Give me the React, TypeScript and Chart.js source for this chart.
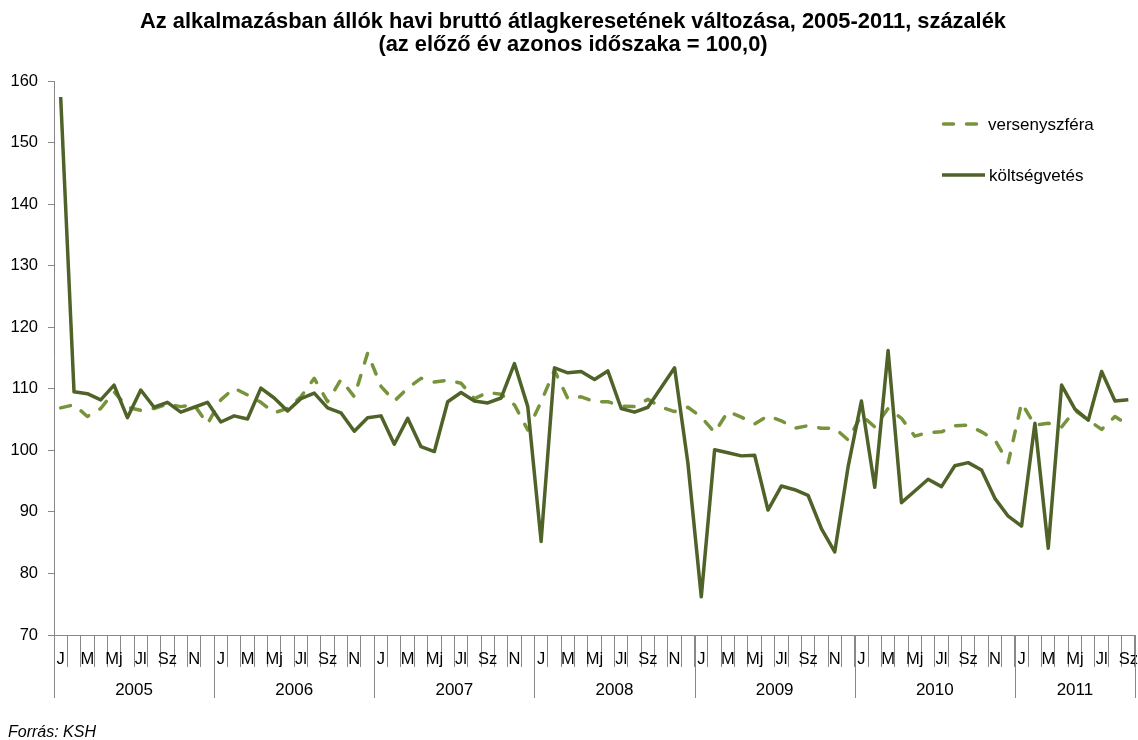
import { useEffect, useRef } from 'react';
import { Chart, registerables } from 'chart.js';

Chart.register(...registerables);

const FONT = '"Liberation Sans", Arial, Helvetica, sans-serif';

const TITLE_LINES = [
  'Az alkalmazásban állók havi bruttó átlagkeresetének változása, 2005-2011, százalék',
  '(az előző év azonos időszaka = 100,0)',
];
const SOURCE = 'Forrás: KSH';

const YEARS = ['2005', '2006', '2007', '2008', '2009', '2010', '2011'];
const MONTHS_PER_YEAR = [12, 12, 12, 12, 12, 12, 9];
const MONTH_NAMES = ['J', 'F', 'M', 'Á', 'Mj', 'Jn', 'Jl', 'Au', 'Sz', 'O', 'N', 'D'];
const MONTH_TICKS = ['J', '', 'M', '', 'Mj', '', 'Jl', '', 'Sz', '', 'N', ''];

const Y_MIN = 70;
const Y_MAX = 160;
const Y_STEP = 10;

const SERIES_NAMES = ['versenyszféra', 'költségvetés'];

const VERSENY = [
  106.9, 107.4, 105.5, 106.8, 109.5, 107.0, 106.5, 106.8, 107.5, 107.1, 107.4, 104.3,
  108.2, 110.1, 109.0, 107.8, 106.1, 106.8, 108.7, 111.7, 107.9, 111.5, 108.7, 115.8,
  110.4, 108.0, 110.1, 111.7, 111.1, 111.4, 110.9, 108.4, 109.4, 109.1, 107.4, 103.3,
  107.9, 113.0, 108.4, 108.7, 107.9, 107.9, 107.2, 107.1, 108.3, 107.0, 106.3, 107.0,
  105.4, 102.9, 106.3, 105.4, 104.3, 105.6, 104.8, 103.6, 104.0, 103.6, 103.6, 101.7,
  105.7, 103.8, 106.8, 105.2, 102.3, 102.9, 103.0, 104.0, 104.1, 103.0, 101.7, 98.0,
  107.7, 104.1, 104.4, 103.8, 106.5, 104.9, 103.4, 105.5, 104.1,
];

const KOLTSEG = [
  157.4, 109.5, 109.2, 108.2, 110.6, 105.3, 109.8, 107.0, 107.8, 106.2, 107.0, 107.8,
  104.6, 105.6, 105.1, 110.1, 108.5, 106.4, 108.4, 109.3, 106.9, 106.1, 103.1, 105.3,
  105.6, 101.0, 105.2, 100.6, 99.8, 107.9, 109.4, 108.0, 107.7, 108.5, 114.1, 107.1,
  85.2, 113.4, 112.6, 112.8, 111.5, 112.9, 106.8, 106.2, 107.0, 110.2, 113.4, 97.9,
  76.2, 100.1, 99.6, 99.1, 99.2, 90.3, 94.2, 93.6, 92.7, 87.3, 83.5, 97.3,
  108.0, 94.0, 116.2, 91.5, 93.4, 95.3, 94.1, 97.5, 98.0, 96.8, 92.2, 89.3,
  87.7, 104.4, 84.1, 110.6, 106.7, 104.9, 112.8, 108.0, 108.2,
];

const COLOR_VERSENY = '#77933C';
const COLOR_KOLTSEG = '#4F6228';
const AXIS_COLOR = '#888888';
const DASH = [10, 13];

const LABELS = YEARS.flatMap((y, yi) =>
  MONTH_NAMES.slice(0, MONTHS_PER_YEAR[yi]).map((m) => `${y} ${m}`)
);

const overlayPlugin = {
  id: 'overlay',
  afterDraw(chart: any) {
    const ctx = chart.ctx as CanvasRenderingContext2D;
    const xs = chart.scales.x;
    const area = chart.chartArea;
    ctx.save();

    // Title
    ctx.fillStyle = '#000';
    ctx.textAlign = 'center';
    ctx.textBaseline = 'middle';
    ctx.font = `bold 22px ${FONT}`;
    const w1 = ctx.measureText(TITLE_LINES[0]).width;
    const k = Math.min(1, 866 / w1);
    TITLE_LINES.forEach((t, i) => {
      const w = ctx.measureText(t).width;
      ctx.fillText(t, 573, 22 + i * 23, w * k);
    });

    // Year groups
    const step = xs.getPixelForValue(1) - xs.getPixelForValue(0);
    ctx.strokeStyle = AXIS_COLOR;
    ctx.lineWidth = 1;
    ctx.font = `17px ${FONT}`;
    let idx = 0;
    YEARS.forEach((y, yi) => {
      const start = idx;
      idx += MONTHS_PER_YEAR[yi];
      const left = xs.getPixelForValue(start) - step / 2;
      const right = xs.getPixelForValue(idx - 1) + step / 2;
      const lines = yi === YEARS.length - 1 ? [left, right] : [left];
      lines.forEach((lx) => {
        const px = Math.round(lx) + 0.5;
        ctx.beginPath();
        ctx.moveTo(px, area.bottom);
        ctx.lineTo(px, area.bottom + 63);
        ctx.stroke();
      });
      ctx.fillStyle = '#000';
      ctx.textAlign = 'center';
      ctx.fillText(y, (left + right) / 2, area.bottom + 55);
    });

    // Legend
    ctx.lineWidth = 3.5;
    ctx.lineCap = 'round';
    ctx.strokeStyle = COLOR_VERSENY;
    ctx.setLineDash(DASH);
    ctx.beginPath();
    ctx.moveTo(943.5, 124);
    ctx.lineTo(980, 124);
    ctx.stroke();
    ctx.setLineDash([]);
    ctx.strokeStyle = COLOR_KOLTSEG;
    ctx.lineCap = 'butt';
    ctx.beginPath();
    ctx.moveTo(942, 175);
    ctx.lineTo(985, 175);
    ctx.stroke();
    ctx.fillStyle = '#000';
    ctx.textAlign = 'left';
    ctx.font = `17px ${FONT}`;
    ctx.fillText(SERIES_NAMES[0], 988, 125);
    ctx.fillText(SERIES_NAMES[1], 989, 176);

    // Source
    ctx.font = `italic 16px ${FONT}`;
    ctx.fillText(SOURCE, 8, 733);
    ctx.restore();
  },
};

export default function App() {
  const canvasRef = useRef<HTMLCanvasElement | null>(null);

  useEffect(() => {
    if (!canvasRef.current) return;
    const chart = new Chart(canvasRef.current, {
      type: 'line',
      data: {
        labels: LABELS,
        datasets: [
          {
            label: SERIES_NAMES[0],
            data: VERSENY,
            borderColor: COLOR_VERSENY,
            borderWidth: 3.5,
            borderDash: DASH,
            borderCapStyle: 'round',
            borderJoinStyle: 'round',
            pointRadius: 0,
            tension: 0,
            fill: false,
            order: 2,
          },
          {
            label: SERIES_NAMES[1],
            data: KOLTSEG,
            borderColor: COLOR_KOLTSEG,
            borderWidth: 3.5,
            borderJoinStyle: 'round',
            pointRadius: 0,
            tension: 0,
            fill: false,
            order: 1,
          },
        ],
      },
      options: {
        animation: false,
        responsive: false,
        events: [],
        layout: { padding: { top: 81, right: 3, left: 0, bottom: 0 } },
        plugins: {
          legend: { display: false },
          title: { display: false },
          tooltip: { enabled: false },
        },
        scales: {
          x: {
            type: 'category',
            offset: true,
            grid: {
              offset: true,
              drawOnChartArea: false,
              drawTicks: true,
              tickLength: 32,
              color: AXIS_COLOR,
              lineWidth: 1,
            },
            border: { color: AXIS_COLOR, width: 1 },
            ticks: {
              autoSkip: false,
              maxRotation: 0,
              minRotation: 0,
              padding: -17,
              color: '#000',
              font: { family: FONT, size: 16.5 },
              callback: (_v: any, i: number) => MONTH_TICKS[i % 12],
            },
            afterFit: (s: any) => {
              s.height = 105;
            },
          },
          y: {
            min: Y_MIN,
            max: Y_MAX,
            grid: {
              drawOnChartArea: false,
              drawTicks: true,
              tickLength: 6,
              color: AXIS_COLOR,
            },
            border: { color: AXIS_COLOR, width: 1 },
            ticks: {
              stepSize: Y_STEP,
              padding: 10,
              color: '#000',
              font: { family: FONT, size: 16.5 },
            },
            afterFit: (s: any) => {
              s.width = 54;
            },
          },
        },
      },
      plugins: [overlayPlugin],
    });
    return () => chart.destroy();
  }, []);

  return (
    <div style={{ position: 'fixed', left: 0, top: 0, width: 1138, height: 740, background: '#fff' }}>
      <canvas ref={canvasRef} width={1138} height={740} />
    </div>
  );
}
